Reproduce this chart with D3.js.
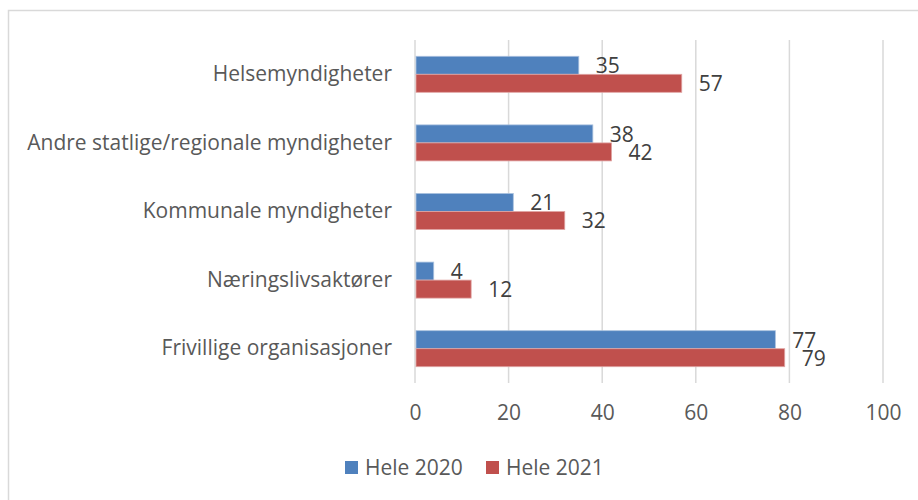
<!DOCTYPE html>
<html>
<head>
<meta charset="utf-8">
<script src="https://cdn.jsdelivr.net/npm/d3@7"></script>
<style>
  body { margin: 0; background: #fff; }
  text { font-family: "Open Sans", "Noto Sans", sans-serif; }
</style>
</head>
<body>
<div id="chart"></div>
<script>
// data
var categories = ["Helsemyndigheter", "Andre statlige/regionale myndigheter",
                  "Kommunale myndigheter", "Næringslivsaktører", "Frivillige organisasjoner"];
var series = ["Hele 2020", "Hele 2021"];
var values2020 = [35, 38, 21, 4, 77];
var values2021 = [57, 42, 32, 12, 79];
var xTicks = [0, 20, 40, 60, 80, 100];
var colors = ["#4F81BD", "#C0504D"];

var W = 918, H = 500;
var margin = {top: 40, right: 35, bottom: 117, left: 415},
    width = W - margin.left - margin.right,
    height = H - margin.top - margin.bottom;
var fontSize = "21px";

var svg = d3.select("#chart")
  .append("svg")
    .attr("width", W)
    .attr("height", H);

// chart area border
svg.append("rect")
  .attr("x", 8.5).attr("y", 10.5)
  .attr("width", W).attr("height", H)
  .attr("fill", "none")
  .attr("stroke", "#D9D9D9")
  .attr("stroke-width", 1.5);

var g = svg.append("g")
  .attr("transform", "translate(" + margin.left + "," + margin.top + ")");

var x = d3.scaleLinear().domain([0, 100]).range([0, width]);
var y = d3.scaleBand().domain(categories).range([0, height]).paddingInner(0.475).paddingOuter(0.2375);
var ySub = d3.scaleBand().domain(series).range([0, y.bandwidth()]);

// gridlines
g.selectAll("line.grid")
  .data(xTicks)
  .enter().append("line")
    .attr("class", "grid")
    .attr("x1", function(d) { return x(d); })
    .attr("x2", function(d) { return x(d); })
    .attr("y1", 0)
    .attr("y2", height)
    .attr("stroke", "#D9D9D9")
    .attr("stroke-width", 1.5);

// x axis
var xAxis = g.append("g")
  .attr("transform", "translate(0," + height + ")")
  .call(d3.axisBottom(x).tickValues(xTicks).tickSize(0).tickPadding(22));
xAxis.select(".domain").remove();
xAxis.selectAll("text")
  .attr("fill", "#595959")
  .style("font-size", fontSize);

// y axis labels
var yAxis = g.append("g")
  .call(d3.axisLeft(y).tickSize(0).tickPadding(23));
yAxis.select(".domain").remove();
yAxis.selectAll("text")
  .attr("fill", "#595959")
  .style("font-size", fontSize);

var rows = categories.map(function(c, i) {
  return {cat: c, vals: [values2020[i], values2021[i]]};
});

var groups = g.selectAll("g.cat")
  .data(rows)
  .enter().append("g")
    .attr("class", "cat")
    .attr("transform", function(d) { return "translate(0," + y(d.cat) + ")"; });

groups.selectAll("rect")
  .data(function(d) { return d.vals.map(function(v, j) { return {s: series[j], v: v, j: j}; }); })
  .enter().append("rect")
    .attr("x", x(0) + 1)
    .attr("y", function(d) { return ySub(d.s); })
    .attr("width", function(d) { return x(d.v) - x(0) - 1; })
    .attr("height", ySub.bandwidth())
    .attr("fill", function(d) { return colors[d.j]; })
    .attr("stroke", function(d) { return d.j == 0 ? "#A9C0DE" : "#E0A5A4"; })
    .attr("stroke-width", 0.8);

groups.selectAll("text.val")
  .data(function(d) { return d.vals.map(function(v, j) { return {s: series[j], v: v, j: j}; }); })
  .enter().append("text")
    .attr("class", "val")
    .attr("x", function(d) { return x(d.v) + 17; })
    .attr("y", function(d) { return ySub(d.s) + ySub.bandwidth() / 2; })
    .attr("dy", "0.38em")
    .attr("fill", "#404040")
    .style("font-size", fontSize)
    .text(function(d) { return d.v; });

// legend
var legendX = [345, 486];
var legend = svg.selectAll("g.legend")
  .data(series)
  .enter().append("g")
    .attr("class", "legend")
    .attr("transform", function(d, i) { return "translate(" + legendX[i] + ",461)"; });
legend.append("rect")
  .attr("width", 13).attr("height", 13)
  .attr("fill", function(d, i) { return colors[i]; });
legend.append("text")
  .attr("x", 20).attr("y", 14)
  .attr("fill", "#595959")
  .style("font-size", fontSize)
  .text(function(d) { return d; });
</script>
</body>
</html>
